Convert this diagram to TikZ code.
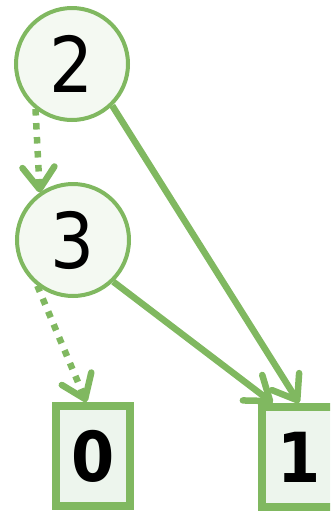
\documentclass[tikz,border=0pt]{standalone}
\usepackage{fontspec}
\setmainfont{DejaVu Sans Condensed}
\usepackage{tikz}
\usetikzlibrary{arrows.meta, positioning}
\definecolor{mygreen}{RGB}{128,184,96}
\definecolor{hdrgreen}{RGB}{244,249,242}
\definecolor{boxgreen}{RGB}{237,245,237}
\tikzset{
  varnode/.style={circle, draw=mygreen, fill=hdrgreen,
    minimum size=112pt, inner sep=0pt, line width=4pt,
    font=\fontsize{77}{80}\selectfont},
  leafnode/.style={rectangle, draw=mygreen, fill=boxgreen,
    minimum width=74pt, minimum height=100pt, inner sep=0pt,
    line width=8pt, font=\fontsize{69}{72}\selectfont\bfseries},
  hiarrow/.style={-{Straight Barb[length=22pt, width=32pt, round]},
    line width=6.5pt, color=mygreen},
  loarrow/.style={-{Straight Barb[length=22pt, width=32pt, round]},
    line width=6.5pt, color=mygreen, dash pattern=on 6.5pt off 7.5pt}
}

\begin{document}
\begin{tikzpicture}[x=1pt, y=-1pt]
  \useasboundingbox (0,0) rectangle (330,512);
  \clip (0,0) rectangle (330,512);

  % Decision nodes
  \node[varnode] (n2) at (72,64) {2};
  \node[varnode] (n3) at (73,240) {3};

  % Terminal nodes
  \node[leafnode] (n0) at (93,456) {0};
  \node[leafnode] (n1) at (299,457) {1};

  % Low edges (dotted) and high edges (solid)
  \draw[loarrow] (n2.231) -- (n3.125);
  \draw[loarrow] (n3.232) -- (n0.97);
  \draw[hiarrow] (n2.-46) -- (n1.north);
  \draw[hiarrow] (n3.-46) -- (n1.116.6);
\end{tikzpicture}
\end{document}
